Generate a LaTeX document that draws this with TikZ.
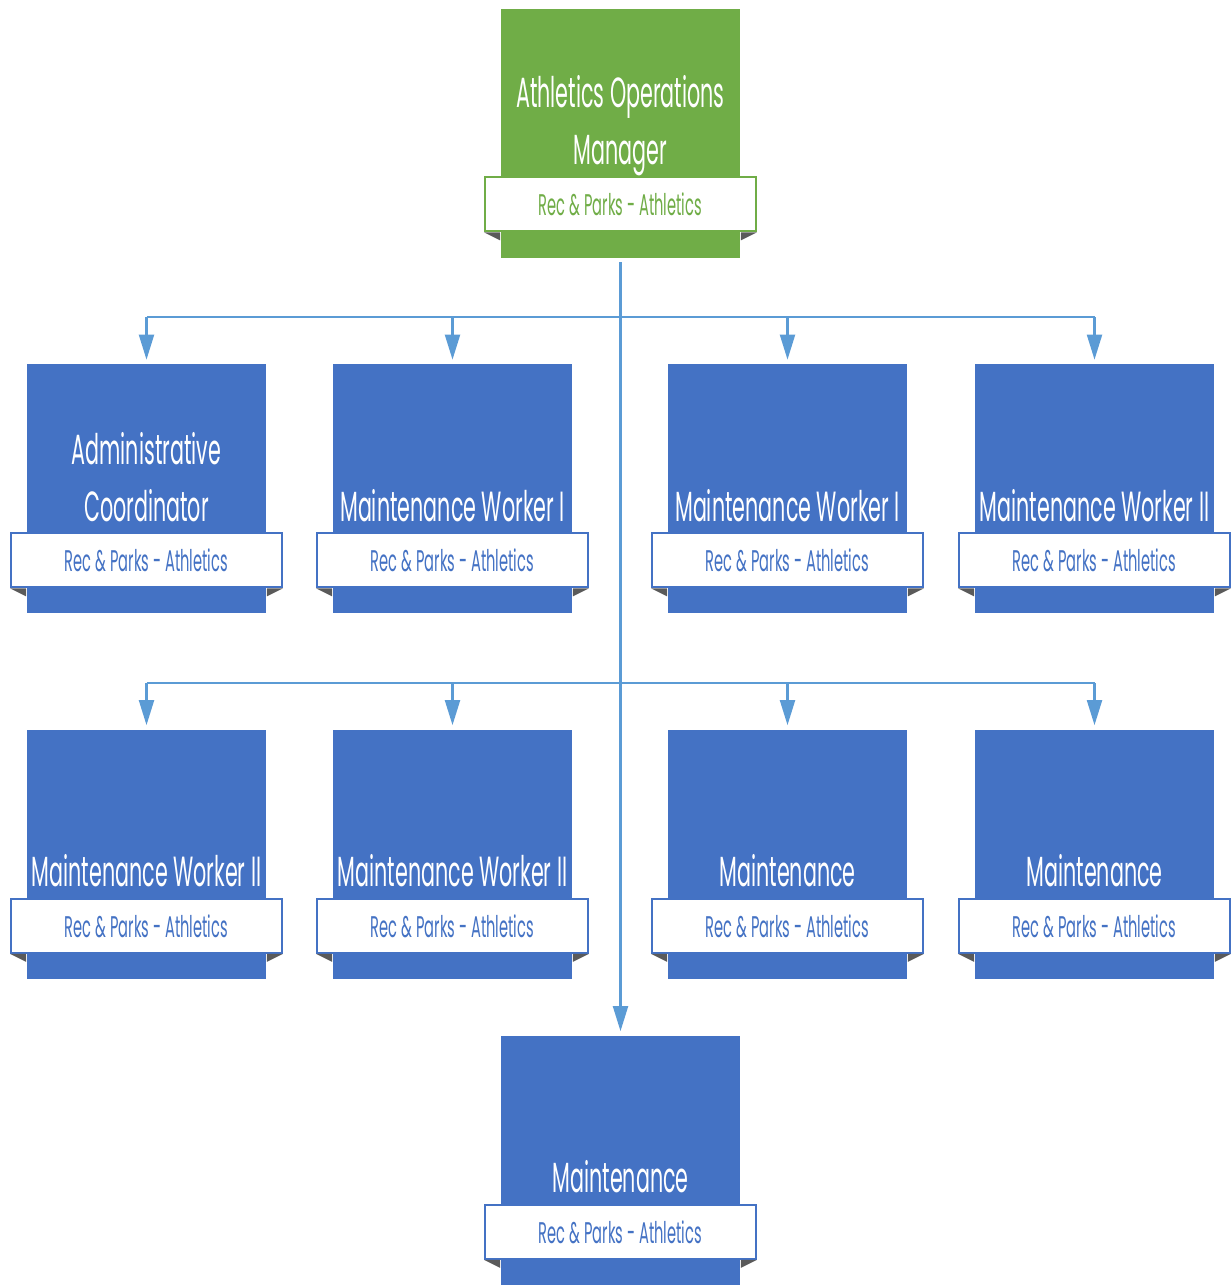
\documentclass[tikz,border=0pt]{standalone}
\usepackage{fontspec}
\usepackage{xcolor}
\usetikzlibrary{arrows.meta,calc,positioning}
\newfontfamily\boxfont{Poppins}[FakeStretch=0.49]
\definecolor{roleBlue}  {HTML}{4472C4}
\definecolor{headGreen} {HTML}{70AD47}
\definecolor{linkBlue}  {HTML}{5B9BD5}
\definecolor{foldGray}  {HTML}{5A5A5A}
\tikzset{
  link/.style={-{Triangle[length=0.5cm,width=0.3cm]},draw=linkBlue,line width=1.2pt,shorten >=0.08cm},
  bus/.style={draw=linkBlue,line width=1.2pt},
  role/.style={rectangle,draw=none,fill=roleBlue,minimum width=4.78cm,minimum height=4.98cm,inner sep=0pt},
  head/.style={role,fill=headGreen},
  ribbon/.style={rectangle,draw=roleBlue,line width=1.1pt,fill=white,text=roleBlue,
    minimum width=5.42cm,minimum height=1.08cm,inner sep=0pt,font=\boxfont\fontsize{17pt}{20pt}\selectfont},
  headribbon/.style={ribbon,draw=headGreen,text=headGreen},
  title/.style={text=white,align=center,inner sep=0pt,text depth=0pt,
    font=\boxfont\fontsize{24pt}{32pt}\selectfont},
  fold/.style={fill=foldGray},
}
\begin{document}
\begin{tikzpicture}[x=1cm,y=1cm]

\useasboundingbox (0,0) rectangle (24.62,-25.70);

% manager
\node[head] (mgr) at (12.41,-2.67) {};
\node[headribbon,above=0.52cm of mgr.south,anchor=south] (mgrrib) {Rec \& Parks - Athletics};
\node[title,above=0.24cm of mgrrib] (mgrtxt) {Athletics Operations\\Manager};

% first row
\node[role] (adm)  at (2.93,-9.77)  {};
\node[role] (mw1a) at (9.05,-9.77)  {};
\node[role] (mw1b) at (15.75,-9.77) {};
\node[role] (mw2a) at (21.89,-9.77) {};

\node[ribbon,above=0.5cm of adm.south,anchor=south]  (admrib)  {Rec \& Parks - Athletics};
\node[ribbon,above=0.5cm of mw1a.south,anchor=south] (mw1arib) {Rec \& Parks - Athletics};
\node[ribbon,above=0.5cm of mw1b.south,anchor=south] (mw1brib) {Rec \& Parks - Athletics};
\node[ribbon,above=0.5cm of mw2a.south,anchor=south] (mw2arib) {Rec \& Parks - Athletics};

\node[title,above=0.22cm of admrib]  (admtxt)  {Administrative\\Coordinator};
\node[title,above=0.22cm of mw1arib] (mw1atxt) {Maintenance Worker I};
\node[title,above=0.22cm of mw1brib] (mw1btxt) {Maintenance Worker I};
\node[title,above=0.22cm of mw2arib] (mw2atxt) {Maintenance Worker II};

% second row
\node[role] (mw2b) at (2.93,-17.08)  {};
\node[role] (mw2c) at (9.05,-17.08)  {};
\node[role] (mnta) at (15.75,-17.08) {};
\node[role] (mntb) at (21.89,-17.08) {};

\node[ribbon,above=0.5cm of mw2b.south,anchor=south] (mw2brib) {Rec \& Parks - Athletics};
\node[ribbon,above=0.5cm of mw2c.south,anchor=south] (mw2crib) {Rec \& Parks - Athletics};
\node[ribbon,above=0.5cm of mnta.south,anchor=south] (mntarib) {Rec \& Parks - Athletics};
\node[ribbon,above=0.5cm of mntb.south,anchor=south] (mntbrib) {Rec \& Parks - Athletics};

\node[title,above=0.22cm of mw2brib] (mw2btxt) {Maintenance Worker II};
\node[title,above=0.22cm of mw2crib] (mw2ctxt) {Maintenance Worker II};
\node[title,above=0.22cm of mntarib] (mntatxt) {Maintenance};
\node[title,above=0.22cm of mntbrib] (mntbtxt) {Maintenance};

% bottom
\node[role] (mntc) at (12.41,-23.2) {};
\node[ribbon,above=0.5cm of mntc.south,anchor=south] (mntcrib) {Rec \& Parks - Athletics};
\node[title,above=0.22cm of mntcrib] (mntctxt) {Maintenance};

% ribbon folds
\foreach \r in {mgrrib,admrib,mw1arib,mw1brib,mw2arib,mw2brib,mw2crib,mntarib,mntbrib,mntcrib}{
  \fill[fold] (\r.south west) -- ++(0.32,0) -- ++(0,-0.16) -- cycle;
  \fill[fold] (\r.south east) -- ++(-0.32,0) -- ++(0,-0.16) -- cycle;
}

% connectors
\coordinate (bus1) at ($(mgr.south)+(0,-1.18)$);
\coordinate (bus2) at ($(mgr.south)+(0,-8.5)$);

\draw[link] ([yshift=-0.08cm]mgr.south) -- (mntc.north);
\draw[bus] (bus1 -| adm.north) -- (bus1 -| mw2a.north);
\draw[bus] (bus2 -| mw2b.north) -- (bus2 -| mntb.north);

\draw[link] (bus1 -| adm.north)  -- (adm.north);
\draw[link] (bus1 -| mw1a.north) -- (mw1a.north);
\draw[link] (bus1 -| mw1b.north) -- (mw1b.north);
\draw[link] (bus1 -| mw2a.north) -- (mw2a.north);

\draw[link] (bus2 -| mw2b.north) -- (mw2b.north);
\draw[link] (bus2 -| mw2c.north) -- (mw2c.north);
\draw[link] (bus2 -| mnta.north) -- (mnta.north);
\draw[link] (bus2 -| mntb.north) -- (mntb.north);

\end{tikzpicture}
\end{document}
